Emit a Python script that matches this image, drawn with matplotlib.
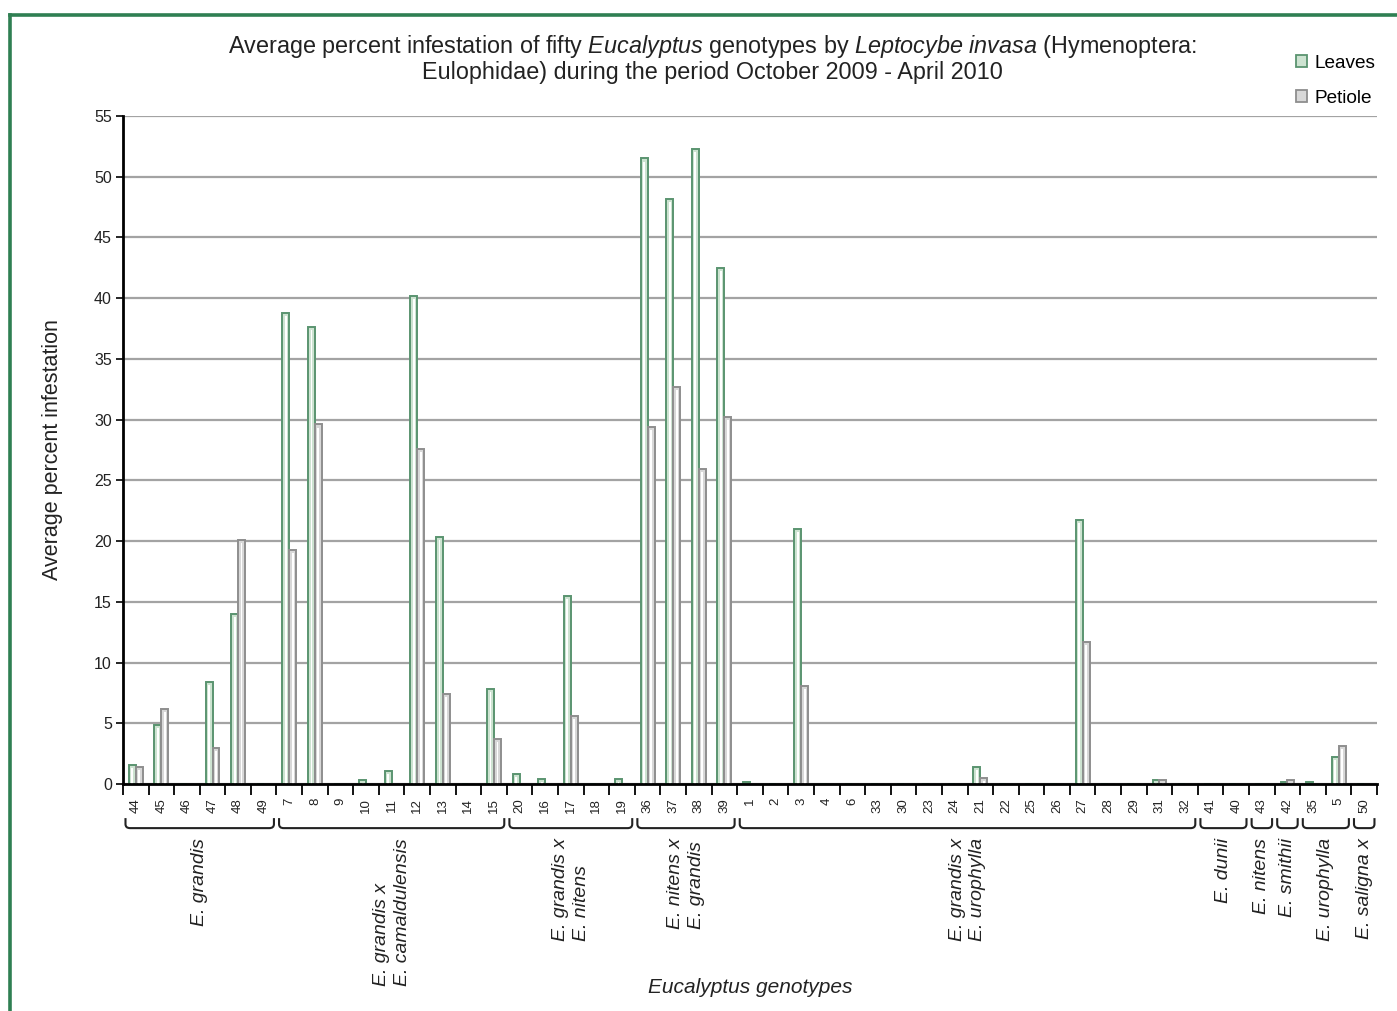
import matplotlib
matplotlib.use('Agg')
import matplotlib.pyplot as plt
import numpy as np
from matplotlib.patches import Patch
from matplotlib.path import Path
from matplotlib.patches import PathPatch
from matplotlib.lines import Line2D
import matplotlib.transforms as mtransforms

# 基本字体配置
plt.rcParams['font.family'] = ['Liberation Sans', 'DejaVu Sans']
plt.rcParams['mathtext.fontset'] = 'custom'
plt.rcParams['mathtext.it'] = 'Liberation Sans:italic'
plt.rcParams['mathtext.rm'] = 'Liberation Sans'

# genotype labels in plotting order
genotypes = ['44', '45', '46', '47', '48', '49',
             '7', '8', '9', '10', '11', '12', '13', '14', '15',
             '20', '16', '17', '18', '19',
             '36', '37', '38', '39',
             '1', '2', '3', '4', '6', '33', '30', '23', '24', '21', '22', '25', '26', '27', '28', '29', '31', '32',
             '41', '40',
             '43',
             '42',
             '35', '5',
             '50']

leaves = [1.6, 4.9, 0, 8.4, 14.0, 0,
          38.8, 37.6, 0, 0.3, 1.1, 40.2, 20.3, 0, 7.8,
          0.8, 0.4, 15.5, 0, 0.4,
          51.5, 48.2, 52.3, 42.5,
          0.2, 0, 21.0, 0, 0, 0, 0, 0, 0, 1.4, 0, 0, 0, 21.7, 0, 0, 0.3, 0,
          0, 0,
          0,
          0.2,
          0.2, 2.2,
          0]

petiole = [1.4, 6.2, 0, 3.0, 20.1, 0,
           19.3, 29.6, 0, 0, 0, 27.6, 7.4, 0, 3.7,
           0, 0, 5.6, 0, 0,
           29.4, 32.7, 25.9, 30.2,
           0, 0, 8.1, 0, 0, 0, 0, 0, 0, 0.5, 0, 0, 0, 11.7, 0, 0, 0.3, 0,
           0, 0,
           0,
           0.3,
           0, 3.1,
           0]

# groups: (label, number of genotypes)
group_names = ['E. grandis', 'E. grandis x\nE. camaldulensis', 'E. grandis x\nE. nitens',
               'E. nitens x\nE. grandis', 'E. grandis x\nE. urophylla', 'E. dunii',
               'E. nitens', 'E. smithii', 'E. urophylla', 'E. saligna x']
group_sizes = [6, 9, 5, 4, 18, 2, 1, 1, 2, 1]

leaf_edge, leaf_face = '#5a9470', '#cde3d1'
pet_edge, pet_face = '#8e8e8e', '#d8d8d8'

fig = plt.figure(figsize=(13.97, 10.11), dpi=100)
ax = fig.add_axes((0.088, 0.2245, 0.8977, 0.6608))

x = np.arange(len(genotypes))
w = 0.27
leaves = np.array(leaves)
petiole = np.array(petiole)

# gridlines
ax.set_axisbelow(True)
ax.yaxis.grid(True, color='#a3a3a3', linewidth=1.6)

# bars: outer bar + white highlight stripe
ax.bar(x - w / 2, leaves, width=w, facecolor=leaf_face, edgecolor=leaf_edge, linewidth=1.4, zorder=3)
ax.bar(x + w / 2, petiole, width=w, facecolor=pet_face, edgecolor=pet_edge, linewidth=1.4, zorder=3)
ax.bar(x - w / 2, np.maximum(leaves - 0.25, 0), width=0.07, color='white', linewidth=0, zorder=4)
ax.bar(x + w / 2, np.maximum(petiole - 0.25, 0), width=0.07, color='white', linewidth=0, zorder=4)

ax.set_xlim(-0.5, len(genotypes) - 0.5)
ax.set_ylim(0, 55)
ax.set_yticks(np.arange(0, 56, 5))
ax.tick_params(axis='y', labelsize=11.5, length=5, width=1.2, pad=3, labelcolor='#222222')

ax.set_xticks(x)
ax.set_xticklabels(genotypes, rotation=90, fontsize=9.5, color='#222222')
ax.set_xticks(np.arange(-0.5, len(genotypes), 1), minor=True)
ax.tick_params(axis='x', which='major', length=0, pad=10)
ax.tick_params(axis='x', which='minor', length=8, width=1.3, direction='out')

for s in ['top', 'right']:
    ax.spines[s].set_visible(False)
for s in ['left', 'bottom']:
    ax.spines[s].set_linewidth(2)
    ax.spines[s].set_zorder(5)

ax.set_ylabel('Average percent infestation', fontsize=15.5, labelpad=22, color='#222222')

# group brackets below tick labels
trans = mtransforms.blended_transform_factory(ax.transData, ax.transAxes)
y_top, y_bot = -0.051, -0.066
start = -0.5
for name, n in zip(group_names, group_sizes):
    x0 = start + 0.1
    x1 = start + n - 0.1
    verts = [(x0, y_top), (x0, y_bot + 0.006), (x0, y_bot), (x0 + 0.18, y_bot),
             (x1 - 0.18, y_bot), (x1, y_bot), (x1, y_bot + 0.006), (x1, y_top)]
    codes = [Path.MOVETO, Path.LINETO, Path.CURVE3, Path.CURVE3,
             Path.LINETO, Path.CURVE3, Path.CURVE3, Path.LINETO]
    ax.add_patch(PathPatch(Path(verts, codes), transform=trans, fill=False,
                           edgecolor='#222222', linewidth=1.5, clip_on=False))
    ax.text(start + n / 2, -0.081, name, transform=trans, rotation=90, ha='center', va='top',
            multialignment='left', fontsize=14, style='italic', color='#222222', linespacing=1.3)
    start += n

ax.text(0.5, -0.304, 'Eucalyptus genotypes', transform=ax.transAxes, ha='center', va='center',
        fontsize=15, style='italic', color='#222222')

# title
fig.text(0.510, 1 - 46 / 1011,
         r'Average percent infestation of fifty $\it{Eucalyptus}$ genotypes by $\it{Leptocybe\ invasa}$ (Hymenoptera:',
         ha='center', va='center', fontsize=16.8, color='#222222')
fig.text(0.510, 1 - 72 / 1011, 'Eulophidae) during the period October 2009 - April 2010',
         ha='center', va='center', fontsize=16.8, color='#222222')

# legend
handles = [Patch(facecolor=leaf_face, edgecolor=leaf_edge, linewidth=1.3),
           Patch(facecolor=pet_face, edgecolor=pet_edge, linewidth=1.3)]
fig.legend(handles, ['Leaves', 'Petiole'], loc='upper right', bbox_to_anchor=(0.997, 0.963),
           frameon=False, fontsize=13.7, handlelength=0.6, handleheight=0.6, handletextpad=0.4,
           labelspacing=0.95)

# green frame of the page
fig.add_artist(Line2D([10 / 1397, 10 / 1397], [0, 1 - 15 / 1011], color='#2f7f52', linewidth=2.6))
fig.add_artist(Line2D([10 / 1397, 1], [1 - 15 / 1011, 1 - 15 / 1011], color='#2f7f52', linewidth=2.6))

plt.savefig('out.png', dpi=100)
